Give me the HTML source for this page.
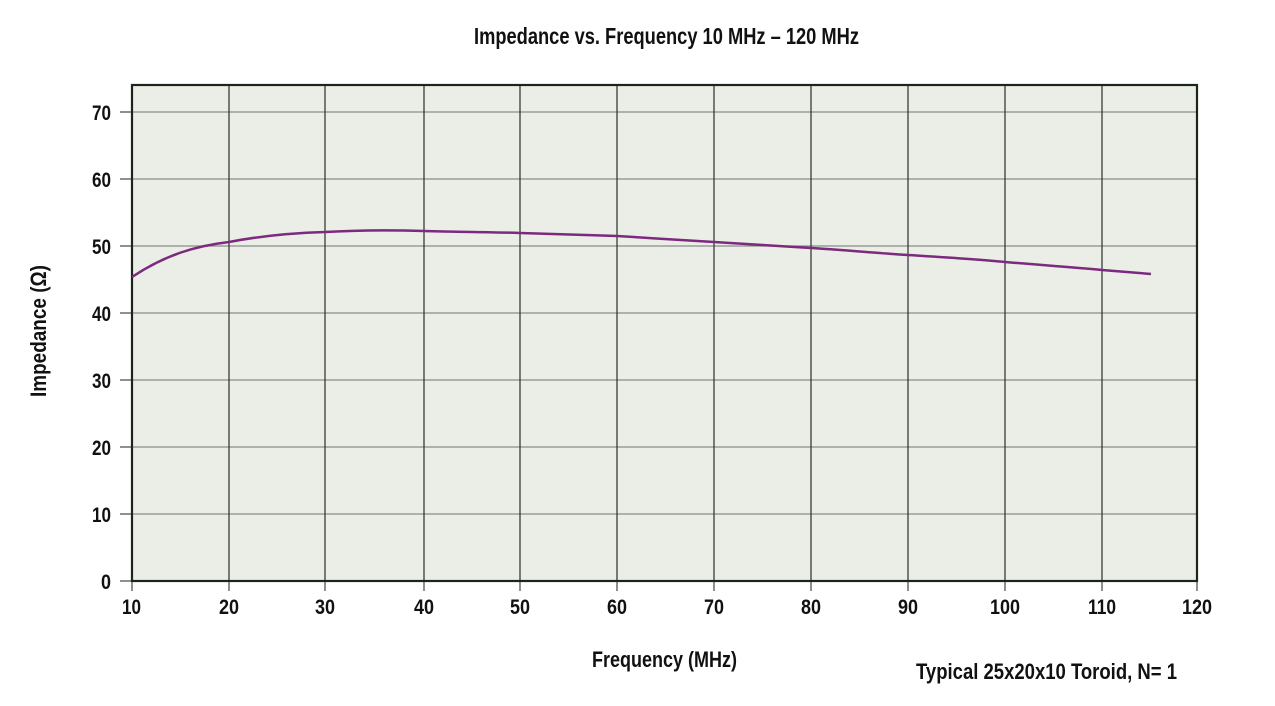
<!DOCTYPE html>
<html><head><meta charset="utf-8"><style>
html,body{margin:0;padding:0;background:#fff;}
svg{display:block;}
text{font-family:"Liberation Sans Narrow","Liberation Sans",sans-serif;fill:#111;font-weight:bold;}
</style></head><body>
<svg width="1275" height="706" viewBox="0 0 1275 706" xmlns="http://www.w3.org/2000/svg">
<text x="474" y="44" font-size="23" textLength="385" lengthAdjust="spacingAndGlyphs">Impedance vs. Frequency 10 MHz – 120 MHz</text>
<rect x="132" y="85" width="1065" height="496" fill="#ebede7"/>
<g stroke="#8a8c88" stroke-width="1.3">
<line x1="132" y1="112" x2="1197" y2="112"/>
<line x1="132" y1="179" x2="1197" y2="179"/>
<line x1="132" y1="246" x2="1197" y2="246"/>
<line x1="132" y1="313" x2="1197" y2="313"/>
<line x1="132" y1="380" x2="1197" y2="380"/>
<line x1="132" y1="447" x2="1197" y2="447"/>
<line x1="132" y1="514" x2="1197" y2="514"/>
</g>
<g stroke="#2a2f2a" stroke-width="1.2">
<line x1="229" y1="85" x2="229" y2="581"/>
<line x1="325" y1="85" x2="325" y2="581"/>
<line x1="424" y1="85" x2="424" y2="581"/>
<line x1="520" y1="85" x2="520" y2="581"/>
<line x1="617" y1="85" x2="617" y2="581"/>
<line x1="714" y1="85" x2="714" y2="581"/>
<line x1="811" y1="85" x2="811" y2="581"/>
<line x1="908" y1="85" x2="908" y2="581"/>
<line x1="1005" y1="85" x2="1005" y2="581"/>
<line x1="1102" y1="85" x2="1102" y2="581"/>
</g>
<g stroke="#555" stroke-width="1.3">
<line x1="120" y1="112" x2="132" y2="112"/><line x1="120" y1="179" x2="132" y2="179"/>
<line x1="120" y1="246" x2="132" y2="246"/><line x1="120" y1="313" x2="132" y2="313"/>
<line x1="120" y1="380" x2="132" y2="380"/><line x1="120" y1="447" x2="132" y2="447"/>
<line x1="120" y1="514" x2="132" y2="514"/><line x1="120" y1="581" x2="132" y2="581"/>
<line x1="132" y1="581" x2="132" y2="591"/><line x1="229" y1="581" x2="229" y2="591"/>
<line x1="325" y1="581" x2="325" y2="591"/><line x1="424" y1="581" x2="424" y2="591"/>
<line x1="520" y1="581" x2="520" y2="591"/><line x1="617" y1="581" x2="617" y2="591"/>
<line x1="714" y1="581" x2="714" y2="591"/><line x1="811" y1="581" x2="811" y2="591"/>
<line x1="908" y1="581" x2="908" y2="591"/><line x1="1005" y1="581" x2="1005" y2="591"/>
<line x1="1102" y1="581" x2="1102" y2="591"/><line x1="1197" y1="581" x2="1197" y2="591"/>
</g>
<rect x="132" y="85" width="1065" height="496" fill="none" stroke="#1a261a" stroke-width="2.2"/>
<path d="M132,277 C165,255 195,246 229,242 C260,236 292,233 325,232 C360,230 395,230 424,231 C460,232 490,232 520,233 C555,234 585,235 617,236 C650,238 680,240 714,242 C745,244 780,246 811,248 C845,250 875,253 908,255 C940,257 975,259 1005,262 C1040,265 1070,267 1102,270 L1151,274"
 fill="none" stroke="#7b2a7e" stroke-width="2.5"/>
<g font-size="21">
<text x="92" y="120" textLength="19" lengthAdjust="spacingAndGlyphs">70</text>
<text x="92" y="187" textLength="19" lengthAdjust="spacingAndGlyphs">60</text>
<text x="92" y="254" textLength="19" lengthAdjust="spacingAndGlyphs">50</text>
<text x="92" y="321" textLength="19" lengthAdjust="spacingAndGlyphs">40</text>
<text x="92" y="388" textLength="19" lengthAdjust="spacingAndGlyphs">30</text>
<text x="92" y="455" textLength="19" lengthAdjust="spacingAndGlyphs">20</text>
<text x="92" y="522" textLength="19" lengthAdjust="spacingAndGlyphs">10</text>
<text x="101" y="589" textLength="10" lengthAdjust="spacingAndGlyphs">0</text>
</g>
<g font-size="21">
<text x="122" y="614" textLength="19" lengthAdjust="spacingAndGlyphs">10</text>
<text x="219" y="614" textLength="20" lengthAdjust="spacingAndGlyphs">20</text>
<text x="315" y="614" textLength="20" lengthAdjust="spacingAndGlyphs">30</text>
<text x="414" y="614" textLength="20" lengthAdjust="spacingAndGlyphs">40</text>
<text x="510" y="614" textLength="20" lengthAdjust="spacingAndGlyphs">50</text>
<text x="607" y="614" textLength="20" lengthAdjust="spacingAndGlyphs">60</text>
<text x="704" y="614" textLength="20" lengthAdjust="spacingAndGlyphs">70</text>
<text x="801" y="614" textLength="20" lengthAdjust="spacingAndGlyphs">80</text>
<text x="898" y="614" textLength="20" lengthAdjust="spacingAndGlyphs">90</text>
<text x="990" y="614" textLength="30" lengthAdjust="spacingAndGlyphs">100</text>
<text x="1088" y="614" textLength="28" lengthAdjust="spacingAndGlyphs">110</text>
<text x="1182" y="614" textLength="30" lengthAdjust="spacingAndGlyphs">120</text>
</g>
<text x="592" y="667" font-size="22" textLength="145" lengthAdjust="spacingAndGlyphs">Frequency (MHz)</text>
<text x="916" y="679" font-size="22" textLength="261" lengthAdjust="spacingAndGlyphs">Typical 25x20x10 Toroid, N= 1</text>
<text transform="translate(46,397) rotate(-90)" font-size="22" textLength="132" lengthAdjust="spacingAndGlyphs">Impedance (Ω)</text>
</svg>
</body></html>
